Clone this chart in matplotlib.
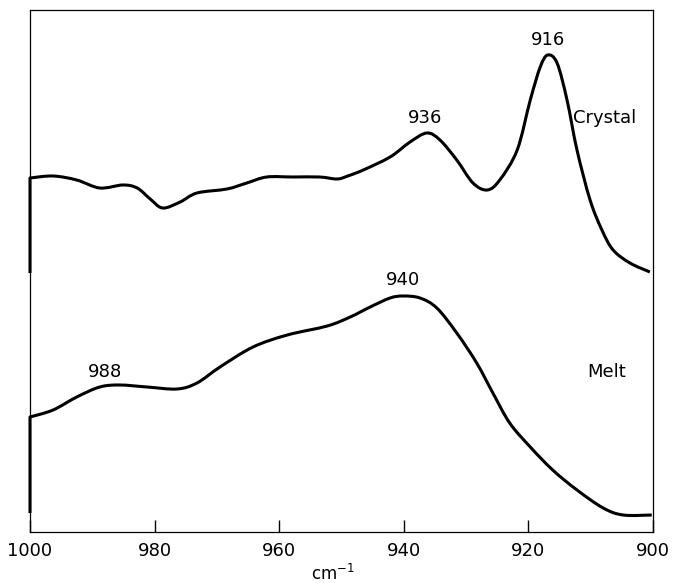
import matplotlib
matplotlib.use("Agg")
import matplotlib.pyplot as plt
from matplotlib.path import Path
from matplotlib.patches import PathPatch
import numpy as np

# Wavenumbers (cm^-1) and relative intensities (arbitrary units)
crystal_x = [1000.0, 1000.0, 996.3, 992.5, 988.8, 985.1, 982.8, 980.7, 978.7, 975.9,
             973.2, 968.4, 965.2, 962.0, 957.8, 953.5, 950.7, 949.0, 946.5, 942.2,
             939.0, 936.3, 934.2, 931.5, 928.9, 926.6, 924.6, 921.8, 919.7, 918.1,
             916.9, 915.4, 913.8, 912.2, 910.1, 908.2, 906.4, 903.7, 900.5]
crystal_y = [259, 354, 356, 352, 344, 347, 344, 333, 324, 330,
             339, 343, 349, 355, 355, 355, 353, 356, 362, 375,
             390, 399, 392, 372, 349, 342, 352, 382, 432, 465,
             477, 469, 432, 382, 332, 302, 282, 269, 260]

melt_x = [1000.0, 1000.0, 996.3, 992.5, 988.8, 985.6, 981.2, 976.4, 973.2, 969.5,
          964.2, 958.7, 952.3, 948.6, 945.4, 942.2, 940.1, 937.4, 934.7, 931.5,
          928.3, 925.7, 923.0, 919.7, 916.1, 912.2, 908.0, 904.8, 900.2]
melt_y = [19, 115, 122, 135, 145, 147, 145, 143, 149, 165,
          185, 197, 206, 215, 225, 234, 236, 234, 224, 199,
          169, 139, 109, 85, 62, 42, 24, 17, 17]

xticks = [1000, 980, 960, 940, 920, 900]
xtick_labels = ["1000", "980", "960", "940", "920", "900"]

# peak annotations: (label, x, y)
annotations = [("916", 916.9, 492), ("936", 936.6, 414), ("940", 940.1, 252), ("988", 988.0, 160)]
series_labels = [("Crystal", 912.8, 414), ("Melt", 910.5, 160)]


def smooth_trace_path(xs, ys):
    """Pen trace: initial vertical stroke, then a smooth Catmull-Rom curve through the points."""
    P = np.column_stack([xs, ys]).astype(float)
    verts = [P[0], P[1]]
    codes = [Path.MOVETO, Path.LINETO]
    pts = P[1:]
    n = len(pts)
    for i in range(n - 1):
        p0 = pts[i - 1] if i > 0 else pts[i]
        p1 = pts[i]
        p2 = pts[i + 1]
        p3 = pts[i + 2] if i + 2 < n else pts[i + 1]
        c1 = p1 + (p2 - p0) / 6.0
        c2 = p2 - (p3 - p1) / 6.0
        verts += [c1, c2, p2]
        codes += [Path.CURVE4, Path.CURVE4, Path.CURVE4]
    return Path(verts, codes)


fig = plt.figure(figsize=(6.79, 5.83), dpi=100)
ax = fig.add_axes([30 / 679, 51 / 583, 623 / 679, 522 / 583])

for xs, ys in [(crystal_x, crystal_y), (melt_x, melt_y)]:
    patch = PathPatch(smooth_trace_path(xs, ys), facecolor="none", edgecolor="black",
                      lw=2.2, joinstyle="round", capstyle="butt", clip_on=False)
    ax.add_patch(patch)

ax.set_xlim(1000, 900)
ax.set_ylim(0, 522)
ax.set_xticks(xticks)
ax.set_xticklabels(xtick_labels, fontsize=13)
ax.set_yticks([])
ax.tick_params(axis="x", direction="in", length=9, width=1, pad=7)
for s in ax.spines.values():
    s.set_linewidth(0.9)

for txt, x, y in annotations:
    ax.text(x, y, txt, ha="center", va="center", fontsize=13)
for txt, x, y in series_labels:
    ax.text(x, y, txt, ha="left", va="center", fontsize=13)

fig.text(333 / 679, 1 - 574 / 583, r"cm$^{-1}$", ha="center", va="center", fontsize=12)

fig.savefig("out.png", dpi=100)
